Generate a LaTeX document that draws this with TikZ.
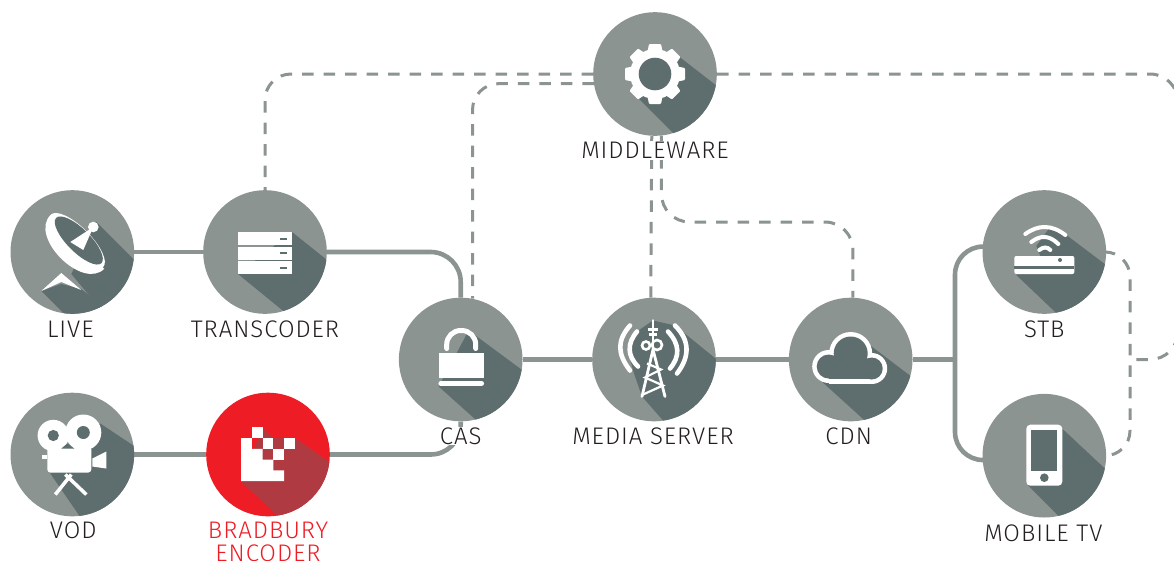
\documentclass[tikz,border=0pt]{standalone}
\usepackage{fontspec}
\setmainfont[LetterSpace=4]{Fira Sans Light}
\usetikzlibrary{backgrounds}
\definecolor{hubgray}{HTML}{8C9492}
\definecolor{darkgray}{HTML}{5E6D6D}
\definecolor{hubred}{HTML}{EE1C25}
\definecolor{darkred}{HTML}{B03A41}
\definecolor{labelblack}{HTML}{231F20}

\begin{document}
\begin{tikzpicture}[x=1pt,y=-1pt,
                    main node/.style={circle,fill=hubgray,draw=none,inner sep=0pt,minimum size=123.6pt},
                    label node/.style={font=\fontsize{24}{23}\selectfont,text=labelblack,fill=white,inner sep=1pt,align=center},
                    link/.style={draw=hubgray,line width=4.6pt},
                    dashlink/.style={draw=hubgray,line width=3pt,dash pattern=on 11.5pt off 10pt},
                    hubshade/.style={fill=darkgray},
                    iconfill/.style={fill=white},
                    iconline/.style={draw=white,line width=4.6pt,line cap=round}]
\useasboundingbox (0,0) rectangle (1174,560);

 \foreach \name/\x/\y in {Live/72.3/252,Transcoder/265/252,Vod/72.3/454.5,Cas/460.7/359.5,
                          MediaServer/654/359.5,Cdn/850.7/359.5,Stb/1044.3/252,MobileTv/1044.3/455.7,Middleware/655/74}
    {\node [main node] (\name) at (\x,\y) {};}
\node [main node,fill=hubred] (Bradbury) at (268,454.5) {};

\coordinate (CdnDrop) at (853,222);
\coordinate (RailLeft) at (955,359.5);
\coordinate (RailRight) at (1130,359.5);
\coordinate (OffPage) at (1178,220);

\begin{scope}[on background layer]
\draw[link] (Live) -- (Transcoder);
\draw[link,rounded corners=30pt] (Transcoder) -| (Cas);
\draw[link] (Vod) -- (Bradbury);
\draw[link,rounded corners=30pt] (Bradbury) -| (Cas);
\draw[link] (Cas) -- (MediaServer);
\draw[link] (MediaServer) -- (Cdn);
\draw[link] (Cdn) -- (RailLeft);
\draw[link,rounded corners=28pt] (Stb.175) -| (RailLeft) |- (MobileTv.184);

\draw[dashlink,rounded corners=26pt] (Middleware) -| (Transcoder.north);
\draw[dashlink,rounded corners=26pt] (Middleware.189) -| (Cas.79);
\draw[dashlink] (Middleware.267) -- (MediaServer.93);
\draw[dashlink,rounded corners=28pt] (Middleware.276) |- (CdnDrop) -- (Cdn.88);
\draw[dashlink,rounded corners=28pt] (Middleware.east) -| (OffPage) |- (RailRight);
\draw[dashlink,rounded corners=25pt] (Stb.east) -| (RailRight) |- (MobileTv.east);
\end{scope}

% dish
\begin{scope}[shift={(Live)}]
\clip (0,0) circle (61.8);
\fill[hubshade] (24,-30) -- (100,46) -- (60,95) -- (-1,22) -- cycle;
\fill[hubshade] (-31,39) -- (-11,32) -- (9,37) -- (60,78) -- (20,90) -- cycle;
\begin{scope}[shift={(6.5,-11.5)},rotate=-45]
\fill[iconfill] (-38,2) .. controls (-38,33) and (38,33) .. (38,2) -- cycle;
\fill[iconfill] (-1,1.5) circle [x radius=37,y radius=13.5];
\fill[hubshade] (0,0) circle [x radius=32,y radius=11.5];
\end{scope}
\fill[iconfill] (-2,-10) -- (11,-2) -- (21,-25) -- cycle;
\fill[iconfill] (21,-25) circle (5.3);
\fill[iconfill] (-31,39) -- (-11,21) -- (9,38) -- (-11,30) -- cycle;
\end{scope}

% rack
\begin{scope}[shift={(Transcoder)}]
\clip (0,0) circle (61.8);
\fill[hubshade] (27,-20) -- (77,20) -- (33,71) -- (-27,22) -- cycle;
\foreach \y in {-20,-5.5,9}
   {\fill[iconfill] (-27,\y) rectangle (27,\y+13);
    \fill[hubshade] (15,\y+5.5) rectangle (22,\y+7.5);}
\end{scope}

% camera
\begin{scope}[shift={(Vod)}]
\clip (0,0) circle (61.8);
\fill[hubshade] (28,-31) -- (85,7) -- (20,80) -- (-22,19) -- cycle;
\fill[iconfill] (-19,-19) circle (15.7);
\fill[iconfill] (11,-22) circle (18);
\fill[iconfill,rounded corners=3pt] (-25,-8) rectangle (19,18);
\fill[iconfill] (-30,0) rectangle (-25,4);
\fill[iconfill] (20,4) -- (34,-3) -- (34,14) -- (20,12) -- cycle;
\fill[hubshade] (-19,-19) circle (5.6);
\fill[hubshade] (11,-22) circle (6.5);
\fill[hubshade] (-11,-6) -- (-5,-11) -- (2,-6) -- cycle;
\draw[iconline,line width=3.5pt,line cap=butt] (-1,20) -- (-17,40);
\draw[iconline,line width=3.5pt,line cap=butt] (-7,20) -- (14,40);
\end{scope}

% logo
\begin{scope}[shift={(Bradbury)}]
\clip (0,0) circle (61.8);
\fill[darkred] (-5.4,-27.3) -- (5.4,-16.5) -- (27,-16.5) -- (85,24) -- (35,85) -- (-27,27) -- cycle;
\fill[iconfill] (-27,-16.5) -- (-16.2,-16.5) -- (-16.2,-5.7) -- (-5.4,-5.7) -- (-5.4,5.1) -- (5.4,5.1)
   -- (5.4,15.9) -- (16.2,15.9) -- (16.2,26.7) -- (-27,26.7) -- cycle;
\foreach \i/\j in {1/0,2/1,4/1,3/2}
   {\fill[iconfill] (-27+10.8*\i,-27.3+10.8*\j) rectangle +(10.8,10.8);}
\end{scope}

% lock
\begin{scope}[shift={(Cas)}]
\clip (0,0) circle (61.8);
\fill[hubshade] (8,-29) -- (81,25) -- (36,79) -- (-22,27) -- cycle;
\draw[iconline,line width=5pt,rounded corners=14pt] (-14,-11) -- (-14,-29) -- (15,-29) -- (15,-11);
\fill[iconfill] (-22,-7) rectangle (23,18);
\draw[iconline] (-20,24) -- (21,24);
\end{scope}

% tower
\begin{scope}[shift={(MediaServer)}]
\clip (0,0) circle (61.8);
\fill[hubshade] (-1,-39) -- (21,-34) -- (75,10) -- (30,85) -- (-12,37) -- (-20,14) -- (-27,-12) -- (-17,-28) -- cycle;
\draw[iconline] (-24,-34) .. controls (-37,-19) and (-37,-6) .. (-24,11);
\draw[iconline] (-17,-28) .. controls (-27,-16) and (-27,-4) .. (-16,7);
\draw[iconline] (14,-28) .. controls (26,-15) and (26,-3) .. (16,9);
\draw[iconline] (21,-34) .. controls (36,-19) and (36,-3) .. (23,14);
\draw[iconline,line width=2.8pt] (-12,37) -- (-1,-10) -- (11,37);
\draw[iconline,line width=2.8pt] (-1,-39) -- (-1,-10);
\draw[iconline,line width=2.2pt,line cap=butt] (-7,4) -- (7,10) -- (-9,18) -- (9,26) -- (-11,35);
\draw[iconline,line width=2.2pt,line cap=butt] (-6,-30) -- (4,-30) (-5,-25) -- (3,-25);
\draw[iconline,line width=2.6pt] (-8,-14) circle (4);
\draw[iconline,line width=2.6pt] (3,-14.5) circle (5);
\end{scope}

% cloud
\begin{scope}[shift={(Cdn)}]
\clip (0,0) circle (61.8);
\fill[hubshade] (13,-19) -- (79,31) -- (35,80) -- (-29,22) -- cycle;
\foreach \cx/\cy/\r in {-22/7/12,0/-6/17,21/9/11}
   {\fill[iconfill] (\cx,\cy) circle (\r+4.5);}
\fill[iconfill] (-22,7) rectangle (21,24.5);
\foreach \cx/\cy/\r in {-22/7/12,0/-6/17,21/9/11}
   {\fill[hubshade] (\cx,\cy) circle (\r);}
\fill[hubshade] (-22,7) rectangle (21,19.5);
\end{scope}

% box
\begin{scope}[shift={(Stb)}]
\clip (0,0) circle (61.8);
\fill[hubshade] (5,-24) -- (22,-17) -- (79,26) -- (35,83) -- (-28,23) -- (-20,4) -- (-4,4) -- (-8,-6) -- cycle;
\draw[iconline,line width=4pt] (-19,-18) .. controls (-5.7,-27.7) and (7.7,-27.3) .. (21,-17);
\draw[iconline,line width=4pt] (-13,-10) .. controls (-3.7,-17.3) and (5.3,-16.7) .. (14,-8);
\draw[iconline,line width=4pt] (-5,-2) .. controls (-1,-5.3) and (3,-5.3) .. (6,-2);
\fill[iconfill,rounded corners=2pt] (-30,4) rectangle (30,22);
\fill[hubshade] (-30,13.5) rectangle (30,16.5);
\fill[hubshade] (15.7,8) circle (2);
\end{scope}

% phone
\begin{scope}[shift={(MobileTv)}]
\clip (0,0) circle (61.8);
\fill[hubshade] (18,-27) -- (80,31) -- (34,80) -- (-16,30) -- cycle;
\fill[iconfill,rounded corners=4pt] (-18,-31) rectangle (18,30);
\fill[hubshade] (-13,-26) rectangle (13,15);
\fill[hubshade] (0,22) circle (4.3);
\end{scope}

% gear
\begin{scope}[shift={(Middleware)}]
\clip (0,0) circle (61.8);
\fill[hubshade] (22,-19) -- (80,26) -- (37,78) -- (-18,23) -- cycle;
\fill[iconfill] (0,0) circle (25);
\foreach \a in {0,45,...,315}
   {\fill[iconfill,rotate=\a,rounded corners=1pt] (-6,-30) -- (6,-30) -- (8,-20) -- (-8,-20) -- cycle;}
\fill[hubshade] (0,0) circle (16.3);
\end{scope}

\node[label node] (LiveLabel) [shift={(-2,77)}] at (Live) {LIVE};
\node[label node] (TranscoderLabel) [shift={(0,77.5)}] at (Transcoder) {TRANSCODER};
\node[label node] (VodLabel) [shift={(1,75.5)}] at (Vod) {VOD};
\node[label node,text=hubred,fill=none] (BradburyLabel) [shift={(0,87)}] at (Bradbury) {BRADBURY\\ENCODER};
\node[label node] (CasLabel) [shift={(0,76.5)}] at (Cas) {CAS};
\node[label node] (MediaServerLabel) [shift={(-1,76.5)}] at (MediaServer) {MEDIA SERVER};
\node[label node] (CdnLabel) [shift={(-2,76.5)}] at (Cdn) {CDN};
\node[label node] (StbLabel) [shift={(0,77.5)}] at (Stb) {STB};
\node[label node] (MobileTvLabel) [shift={(-1,77.5)}] at (MobileTv) {MOBILE TV};
\node[label node] (MiddlewareLabel) [shift={(0,76.5)}] at (Middleware) {MIDDLEWARE};

\end{tikzpicture}
\end{document}
